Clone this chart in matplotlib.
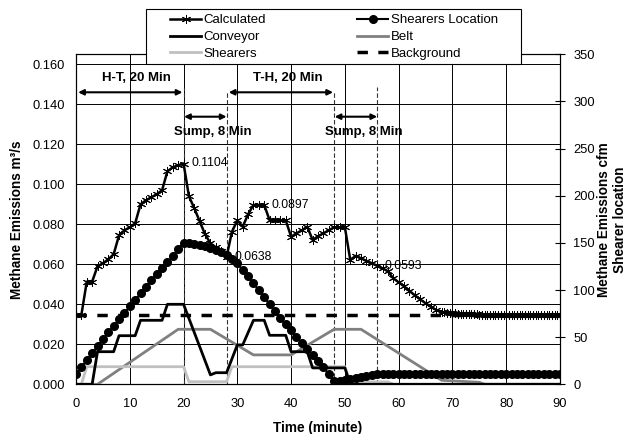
import numpy as np
import matplotlib
matplotlib.use("Agg")
import matplotlib.pyplot as plt
from matplotlib.patches import Rectangle
from matplotlib.ticker import FormatStrFormatter, MultipleLocator

plt.rcParams['font.family'] = ['Liberation Sans', 'DejaVu Sans']

# ---------------- data ----------------
calc_time_a = list(range(0, 68))
calc_val_a = [0.0347, 0.0347, 0.0513, 0.0513, 0.0590, 0.0605, 0.0625, 0.0650, 0.0745, 0.0770,
              0.0785, 0.0805, 0.0900, 0.0920, 0.0935, 0.0950, 0.0970, 0.1065, 0.1085, 0.1095,
              0.1104, 0.0940, 0.0880, 0.0815, 0.0750, 0.0705, 0.0685, 0.0665, 0.0638, 0.0763,
              0.0820, 0.0788, 0.0850, 0.0897, 0.0897, 0.0897, 0.0820, 0.0820, 0.0820, 0.0820,
              0.0738, 0.0755, 0.0770, 0.0788, 0.0722, 0.0740, 0.0755, 0.0770, 0.0785, 0.0785,
              0.0785, 0.0622, 0.0642, 0.0630, 0.0617, 0.0605, 0.0593, 0.0580, 0.0565, 0.0530,
              0.0510, 0.0490, 0.0467, 0.0445, 0.0425, 0.0405, 0.0387, 0.0372]
calc_time_b = list(np.arange(68, 90.5, 0.5))
calc_val_b = [0.0362, 0.0360, 0.0358, 0.0357, 0.0356, 0.0355, 0.0354, 0.0353, 0.0352, 0.0351,
              0.0351, 0.0350, 0.0350, 0.0350, 0.0349, 0.0349, 0.0349, 0.0348, 0.0348, 0.0348,
              0.0348, 0.0348, 0.0348, 0.0348, 0.0348, 0.0348, 0.0348, 0.0348, 0.0348, 0.0348,
              0.0348, 0.0348, 0.0348, 0.0348, 0.0348, 0.0348, 0.0348, 0.0348, 0.0348, 0.0348,
              0.0348, 0.0348, 0.0348, 0.0348, 0.0348]
calc_time = calc_time_a + calc_time_b
calc_val = calc_val_a + calc_val_b

loc_time = list(range(0, 91))
loc_val = [0.0050, 0.0085, 0.0120, 0.0155, 0.0190, 0.0225, 0.0260, 0.0290, 0.0325, 0.0355,
           0.0390, 0.0420, 0.0455, 0.0485, 0.0520, 0.0550, 0.0580, 0.0610, 0.0640, 0.0675,
           0.0708, 0.0705, 0.0700, 0.0695, 0.0690, 0.0680, 0.0670, 0.0660, 0.0645, 0.0625,
           0.0605, 0.0570, 0.0540, 0.0505, 0.0470, 0.0435, 0.0400, 0.0365, 0.0330, 0.0300,
           0.0270, 0.0235, 0.0205, 0.0175, 0.0145, 0.0115, 0.0085, 0.0050, 0.0015, 0.0015,
           0.0020, 0.0025, 0.0030, 0.0035, 0.0040, 0.0045, 0.0050] + [0.0050] * 34

conv_time = [0, 3, 4, 7, 8, 11, 12, 16, 17, 20, 25, 26, 28, 30, 31, 33, 35, 36, 39, 40, 43, 44, 50, 51, 90]
conv_val = [0.0, 0.0, 0.0163, 0.0163, 0.0243, 0.0243, 0.0320, 0.0320, 0.0400, 0.0400, 0.0047, 0.0058,
            0.0058, 0.0197, 0.0197, 0.0320, 0.0320, 0.0245, 0.0245, 0.0163, 0.0163, 0.0082, 0.0082,
            0.0, 0.0]

belt_time = [0, 4, 19, 25, 33, 40, 48, 53, 68, 75, 76, 90]
belt_val = [0.0, 0.0, 0.0275, 0.0275, 0.0147, 0.0147, 0.0275, 0.0275, 0.0020, 0.0010, 0.0, 0.0]

shr_time = [0, 1, 2, 20, 21, 28, 29, 50, 51, 58, 59, 90]
shr_val = [0.0, 0.0, 0.0088, 0.0088, 0.0013, 0.0013, 0.0088, 0.0088, 0.0012, 0.0012, 0.0, 0.0]

bg_time = [0, 90]
bg_val = [0.0345, 0.0345]

peak_labels = ["0.1104", "0.0638", "0.0897", "0.0593"]
peak_time = [20, 28, 35, 56]
peak_val = [0.1104, 0.0638, 0.0897, 0.0593]

phase_labels = ["H-T, 20 Min", "T-H, 20 Min"]
phase_start = [0, 28]
phase_end = [20, 48]
sump_labels = ["Sump, 8 Min", "Sump, 8 Min"]
sump_start = [20, 48]
sump_end = [28, 56]

# ---------------- figure ----------------
fig = plt.figure(figsize=(6.29, 4.34), dpi=100)
ax = fig.add_axes([76 / 629, 1 - 384.3 / 434, 484 / 629, 330 / 434])
ax2 = ax.twinx()

ax.set_xlim(0, 90)
ax.set_ylim(0, 0.165)
ax2.set_ylim(0, 350)
ax.xaxis.set_major_locator(MultipleLocator(10))
ax.set_yticks(np.arange(0, 0.161, 0.02))
ax.yaxis.set_major_formatter(FormatStrFormatter('%.3f'))
ax2.set_yticks(np.arange(0, 351, 50))

ax.grid(True, color='black', lw=0.7)
ax.set_axisbelow(True)

ax.tick_params(axis='x', length=0, pad=10, labelsize=9.3)
ax.tick_params(axis='y', length=0, pad=8, labelsize=9.3)
ax2.tick_params(axis='y', direction='inout', length=7, width=0.8, pad=6, labelsize=9.3)
for s in ax.spines.values():
    s.set_linewidth(0.8)
for s in ax2.spines.values():
    s.set_linewidth(0.8)

# dashed vertical markers
for xv, ytop in [(20, 0.148), (28, 0.1465), (48, 0.1465), (56, 0.1485)]:
    ax.plot([xv, xv], [0, ytop], color='#333333', lw=0.8, ls=(0, (4, 2)), zorder=3)

l_bg, = ax.plot(bg_time, bg_val, color='black', lw=2.5, ls=(0, (3, 3)), zorder=4, label='Background')
l_belt, = ax.plot(belt_time, belt_val, color='#808080', lw=2, zorder=5, label='Belt')
l_shr, = ax.plot(shr_time, shr_val, color='#c0c0c0', lw=2, zorder=5, label='Shearers')
l_conv, = ax.plot(conv_time, conv_val, color='black', lw=2, zorder=6, label='Conveyor')
l_loc, = ax.plot(loc_time, loc_val, color='black', lw=1.5, marker='o', ms=5.5, zorder=7,
                 label='Shearers Location')
l_calc, = ax.plot(calc_time, calc_val, color='black', lw=1.8, marker=(6, 2, 0), ms=6.5, mew=0.7,
                  zorder=8, label='Calculated')

# peak labels
for lab, t, v in zip(peak_labels, peak_time, peak_val):
    ax.text(t + 1.4, v, lab, fontsize=8.8, va='center', ha='left', zorder=9)

# phase arrows
arr = dict(arrowstyle='<|-|>', lw=1.5, color='black', mutation_scale=8, shrinkA=0, shrinkB=0)
for lab, a, b in zip(phase_labels, phase_start, phase_end):
    ax.annotate('', xy=(a + 0.4, 0.146), xytext=(b - 0.2, 0.146), arrowprops=arr, zorder=9)
    ax.text((a + b) / 2 + 1.3, 0.1533, lab, fontsize=9.5, fontweight='bold', ha='center', va='center')
for lab, a, b in zip(sump_labels, sump_start, sump_end):
    ax.annotate('', xy=(a + 0.1, 0.1338), xytext=(b, 0.1338), arrowprops=arr, zorder=9)
    ax.text((a + b) / 2 + 1.5, 0.1263, lab, fontsize=9.5, fontweight='bold', ha='center', va='center')

ax.set_xlabel('Time (minute)', fontsize=9.8, fontweight='bold', labelpad=8)
ax.set_ylabel('Methane Emissions m³/s', fontsize=9.8, fontweight='bold', labelpad=6)
ax2.set_ylabel('Methane Emissions cfm\nShearer location', fontsize=9.8, fontweight='bold', labelpad=1.5)

# legend
rect = Rectangle((146 / 629, 1 - 64 / 434), 375 / 629, 55 / 434, transform=fig.transFigure,
                 facecolor='white', edgecolor='black', lw=0.8, zorder=10)
fig.patches.append(rect)
handles = [l_calc, l_conv, l_shr, l_loc, l_belt, l_bg]
leg = fig.legend(handles, [h.get_label() for h in handles], ncol=2, frameon=False,
                 loc='center', bbox_to_anchor=(334 / 629, 1 - 37 / 434), fontsize=9.5,
                 handlelength=2.35, handletextpad=0.2, columnspacing=6.9, labelspacing=0.35,
                 borderpad=0.1)
leg.set_zorder(11)

fig.savefig('out.png', dpi=100)
